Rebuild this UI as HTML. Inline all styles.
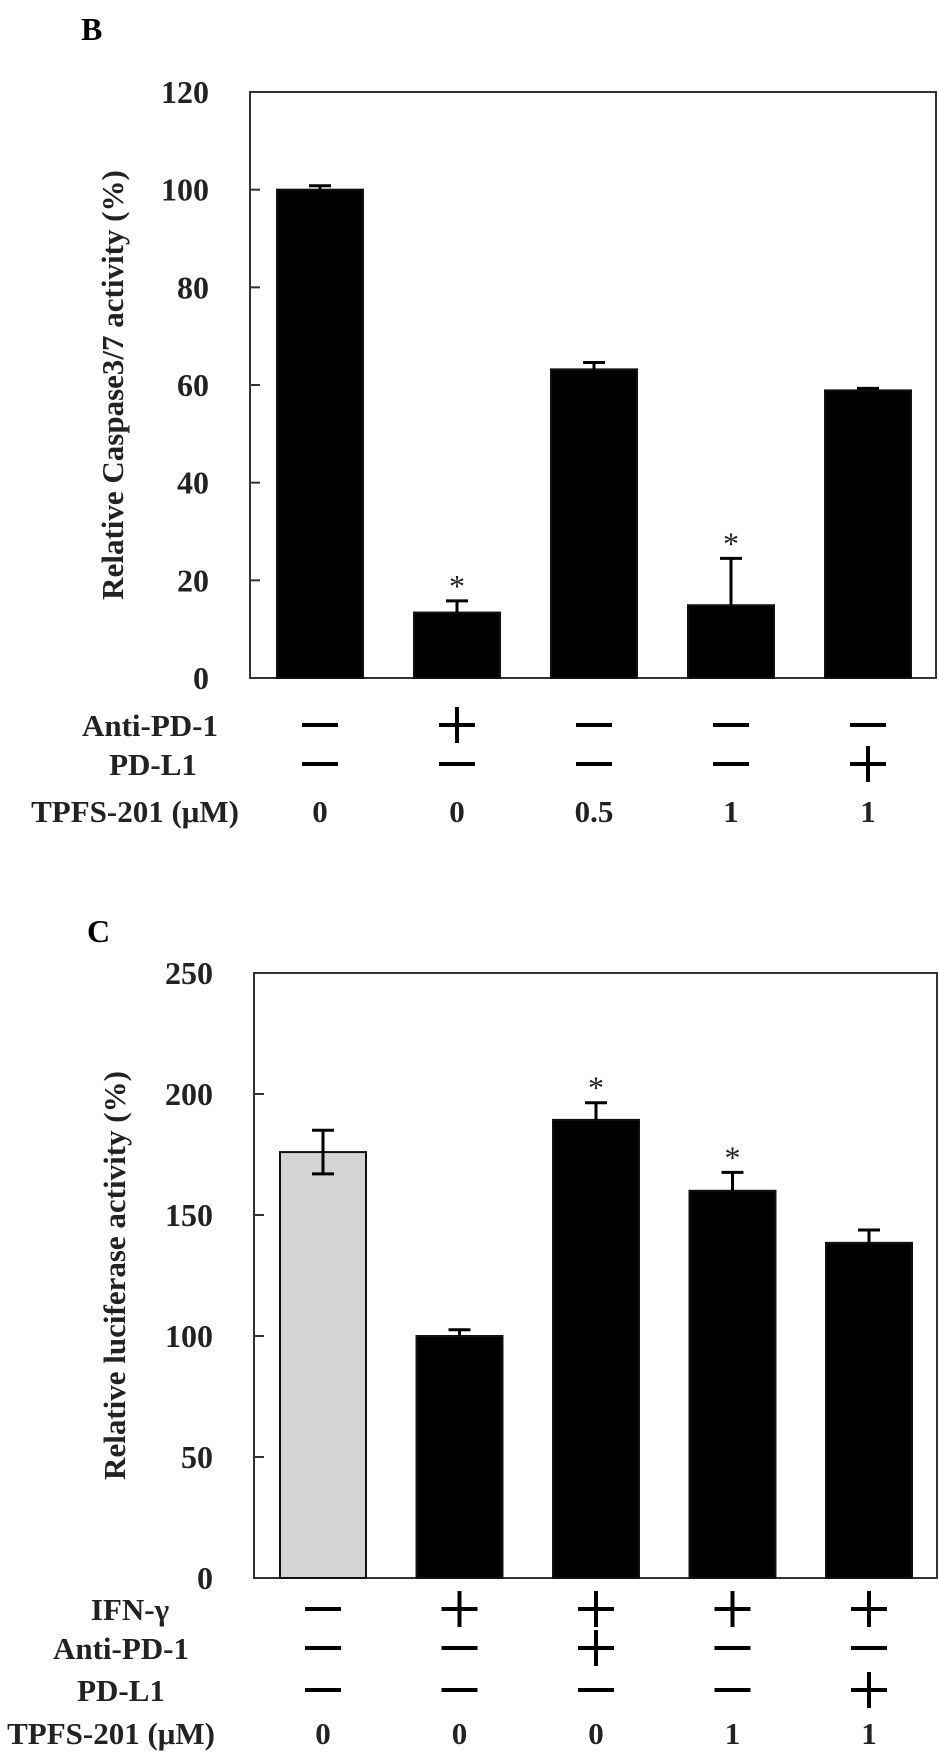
<!DOCTYPE html>
<html><head><meta charset="utf-8"><style>
html,body{margin:0;padding:0;background:#fff;}
svg{display:block;font-family:"Liberation Serif",serif;}
</style></head><body>
<svg id="fig" width="939" height="1759" viewBox="0 0 939 1759" xmlns="http://www.w3.org/2000/svg">
<text x="81" y="40" font-size="32" font-weight="bold">B</text>
<text x="87" y="942" font-size="32" font-weight="bold">C</text>
<g id="chartB"></g>
<g id="chartC"></g>
</svg>
<script>
// Panel B data
const bCategories = ["g1","g2","g3","g4","g5"];
const bValues = [100, 13.4, 63.2, 14.9, 58.9];
const bErrors = [0.8, 2.4, 1.4, 9.6, 0.4];
const bStars = [false, true, false, true, false];
const bTicks = [0, 20, 40, 60, 80, 100, 120];
const bAnti = ["-","+","-","-","-"];
const bPDL1 = ["-","-","-","-","+"];
const bTPFS = ["0","0","0.5","1","1"];
// Panel C data
const cCategories = ["g1","g2","g3","g4","g5"];
const cValues = [176, 100, 189.3, 160, 138.5];
const cErrors = [9, 2.6, 7.1, 7.6, 5.3];
const cStars = [false, false, true, true, false];
const cTicks = [0, 50, 100, 150, 200, 250];
const cIFN = ["-","+","+","+","+"];
const cAnti = ["-","-","+","-","-"];
const cPDL1 = ["-","-","-","-","+"];
const cTPFS = ["0","0","0","1","1"];

const NS = "http://www.w3.org/2000/svg";
function mk(parent, tag, attrs, text){
  const e = document.createElementNS(NS, tag);
  for (const k in attrs) e.setAttribute(k, attrs[k]);
  if (text !== undefined) e.textContent = text;
  parent.appendChild(e);
  return e;
}
function sign(g, s, cx, cy, name){
  const grp = mk(g, "g", {});
  
  
  mk(grp, "line", {x1:cx-18, y1:cy, x2:cx+18, y2:cy, stroke:"#000", "stroke-width":4});
  if (s === "+") mk(grp, "line", {x1:cx, y1:cy-18, x2:cx, y2:cy+18, stroke:"#000", "stroke-width":4});
}
function drawChart(g, cfg){
  const {left,right,top,bottom,ymax,cats,vals,errs,stars,ticks,fills,lowerErr,title,titleX,rows,barLeft0,step,barW} = cfg;
  const y = v => bottom - (v/ymax)*(bottom-top);
  const xc = i => barLeft0 + i*step + barW/2;
  const frame = mk(g, "rect", {x:left, y:top, width:right-left, height:bottom-top, fill:"none", stroke:"#333", "stroke-width":2});
  
  
  ticks.forEach(t => {
    const tl = mk(g, "line", {x1:left, y1:y(t), x2:left+10, y2:y(t), stroke:"#333", "stroke-width":2});
    
    
    const tx = mk(g, "text", {x:left-41, y:y(t)+11, "font-size":32, "font-weight":"bold", "text-anchor":"end", fill:"#222"}, String(t));
    
    
  });
  const yt = mk(g, "text", {x:titleX, y:(top+bottom)/2, "font-size":31, "font-weight":"bold", fill:"#222", "text-anchor":"middle", transform:"rotate(-90 "+titleX+" "+((top+bottom)/2)+")"}, title);
  
  
  cats.forEach((c,i) => {
    const x0 = barLeft0 + i*step;
    const r = mk(g, "rect", {x:x0, y:y(vals[i]), width:barW, height:bottom-y(vals[i]), fill:fills[i], stroke:"#111", "stroke-width":2});
    
    
  });
  cats.forEach((c,i) => {
    const cx = xc(i);
    if (errs[i] > 0) {
      const e1 = mk(g, "line", {x1:cx, y1:y(vals[i]+errs[i]), x2:cx, y2:lowerErr[i] ? y(vals[i]-errs[i]) : y(vals[i]), stroke:"#000", "stroke-width":3});
      
      
      mk(g, "line", {x1:cx-11, y1:y(vals[i]+errs[i]), x2:cx+11, y2:y(vals[i]+errs[i]), stroke:"#000", "stroke-width":3});
      if (lowerErr[i]) mk(g, "line", {x1:cx-11, y1:y(vals[i]-errs[i]), x2:cx+11, y2:y(vals[i]-errs[i]), stroke:"#000", "stroke-width":3});
    }
    if (stars[i]) {
      const st = mk(g, "text", {x:cx, y:y(vals[i]+errs[i])-4, "font-size":32, "text-anchor":"middle", fill:"#222"}, "*");
      
      
    }
  });
  rows.forEach(row => {
    const lb = mk(g, "text", {x:row.lx, y:row.y+11, "font-size":31, "font-weight":"bold", fill:"#222", "text-anchor":"middle"}, row.label);
    
    
    row.vals.forEach((v,i) => {
      if (v === "+" || v === "-") sign(g, v, xc(i), row.y, 'treatment-sign');
      else {
        const t = mk(g, "text", {x:xc(i), y:row.y+11, "font-size":31, "font-weight":"bold", fill:"#222", "text-anchor":"middle"}, v);
        
        
      }
    });
  });
}
drawChart(document.getElementById("chartB"), {
  left:250, right:936, top:92, bottom:678, ymax:120,
  cats:bCategories, vals:bValues, errs:bErrors, stars:bStars, ticks:bTicks,
  fills:["#000","#000","#000","#000","#000"], lowerErr:[false,false,false,false,false],
  title:"Relative Caspase3/7 activity (%)", titleX:123,
  barLeft0:277, step:137, barW:86,
  rows:[{label:"Anti-PD-1", lx:150, y:725, vals:bAnti},
        {label:"PD-L1", lx:153, y:764, vals:bPDL1},
        {label:"TPFS-201 (μM)", lx:135, y:811, vals:bTPFS}]
});
drawChart(document.getElementById("chartC"), {
  left:254, right:937, top:973, bottom:1578, ymax:250,
  cats:cCategories, vals:cValues, errs:cErrors, stars:cStars, ticks:cTicks,
  fills:["#d4d4d4","#000","#000","#000","#000"], lowerErr:[true,false,false,false,false],
  title:"Relative luciferase activity (%)", titleX:125,
  barLeft0:280, step:136.5, barW:86,
  rows:[{label:"IFN-γ", lx:130, y:1609, vals:cIFN},
        {label:"Anti-PD-1", lx:121, y:1648, vals:cAnti},
        {label:"PD-L1", lx:121, y:1690, vals:cPDL1},
        {label:"TPFS-201 (μM)", lx:111, y:1733, vals:cTPFS}]
});
</script>
</body></html>
